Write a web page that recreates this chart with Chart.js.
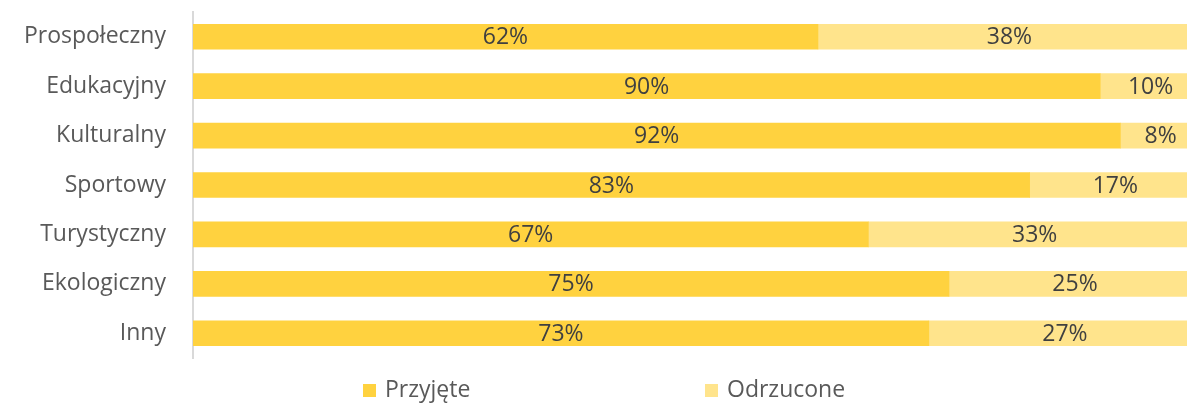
<!DOCTYPE html>
<html>
<head>
<meta charset="utf-8">
<script src="https://cdn.jsdelivr.net/npm/chart.js@4"></script>
<style>
    html, body { margin: 0; padding: 0; background: #fff; overflow: hidden; }
    #wrap { position: relative; width: 1201px; height: 403px; }
    .legend { position: absolute; top: 372px; font: 23px "Open Sans", sans-serif; color: #595959; white-space: nowrap; }
    .legend span { display: inline-block; width: 13px; height: 13px; margin-right: 9px; vertical-align: 0px; }
</style>
</head>
<body>
<div id="wrap">
    <canvas id="chart"></canvas>
    <div class="legend" style="left:363px"><span style="background:#FFD23F"></span>Przyjęte</div>
    <div class="legend" style="left:705px"><span style="background:#FFE48C"></span>Odrzucone</div>
</div>
<script>
const categories = ['Prospołeczny', 'Edukacyjny', 'Kulturalny', 'Sportowy', 'Turystyczny', 'Ekologiczny', 'Inny'];
const przyjete = [62, 90, 92, 83, 67, 75, 73];
const odrzucone = [38, 10, 8, 17, 33, 25, 27];

// etykiety procentowe na środku każdego segmentu
const barLabels = {
    id: 'barLabels',
    afterDatasetsDraw(chart) {
        const ctx = chart.ctx;
        ctx.save();
        ctx.font = '23px "Open Sans", sans-serif';
        ctx.fillStyle = '#404040';
        ctx.textAlign = 'center';
        ctx.textBaseline = 'middle';
        chart.data.datasets.forEach((ds, i) => {
            chart.getDatasetMeta(i).data.forEach((bar, j) => {
                const x = (bar.x + bar.base) / 2;
                ctx.fillText(ds.data[j] + '%', x, bar.y + 1);
            });
        });
        ctx.restore();
    }
};

new Chart(document.getElementById('chart'), {
    type: 'bar',
    data: {
        labels: categories,
        datasets: [
            { label: 'Przyjęte', data: przyjete, backgroundColor: '#FFD23F' },
            { label: 'Odrzucone', data: odrzucone, backgroundColor: '#FFE48C' }
        ]
    },
    options: {
        indexAxis: 'y',
        responsive: true,
        maintainAspectRatio: false,
        animation: false,
        layout: { padding: { top: 12, bottom: 45, left: 0, right: 0 } },
        datasets: { bar: { barThickness: 25 } },
        scales: {
            x: { stacked: true, min: 0, max: 100, display: false },
            y: {
                stacked: true,
                grid: { display: false, drawTicks: false },
                border: { display: true, color: '#d9d9d9', width: 2 },
                ticks: { color: '#595959', font: { family: 'Open Sans', size: 23 }, padding: 27 },
                afterFit(scale) {
                    scale.width = 193;
                    scale.paddingTop = 0;
                    scale.paddingBottom = 0;
                }
            }
        },
        plugins: {
            legend: { display: false },
            tooltip: { enabled: false }
        }
    },
    plugins: [barLabels]
});
</script>
</body>
</html>
